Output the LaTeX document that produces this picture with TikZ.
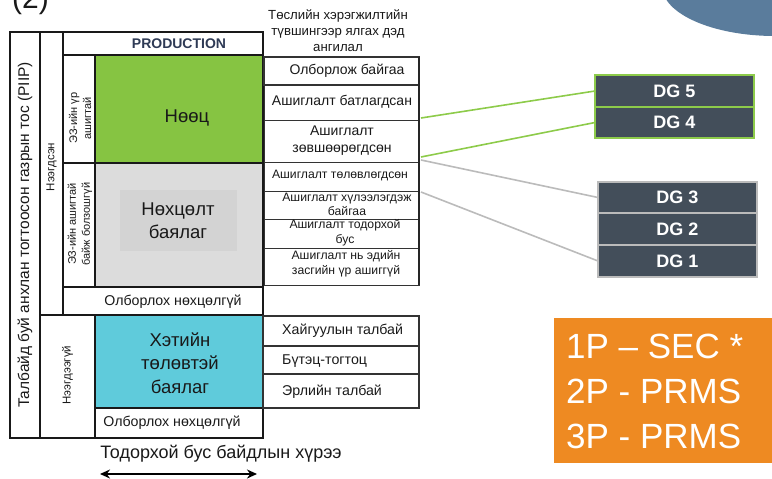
\documentclass[tikz,border=0pt]{standalone}
\usepackage{fontspec}
\setmainfont{Liberation Sans}
\usetikzlibrary{arrows.meta}
\definecolor{resgreen}{HTML}{86C442}
\definecolor{congray}{HTML}{DCDCDC}
\definecolor{congrayin}{HTML}{D3D3D3}
\definecolor{prosblue}{HTML}{5FCBDB}
\definecolor{dgfill}{HTML}{434E5A}
\definecolor{lngreen}{HTML}{8DCB4A}
\definecolor{lngray}{HTML}{BBBBBB}
\definecolor{orangebox}{HTML}{EE8A22}
\definecolor{circblue}{HTML}{5A7C9C}
\definecolor{prodtext}{HTML}{2E3A55}
\newcommand\fsz[2]{\fontsize{#1pt}{#2pt}\selectfont}
\tikzset{
  cell/.style={draw=black!90, line width=1.3pt, inner sep=0pt, outer sep=0pt},
  rcell/.style={draw=black!80, line width=1pt, inner sep=0pt, outer sep=0pt, minimum width=155pt},
  lbl/.style={inner sep=0pt, align=center, text=black!90},
  dgbox/.style={fill=dgfill, text=white, font=\fsz{18}{21}\bfseries, inner sep=0pt, outer sep=0pt, minimum width=159pt, line width=1.2pt},
  conn/.style={line width=1.6pt},
}
\begin{document}
\begin{tikzpicture}[x=1pt,y=-1pt]
\useasboundingbox (0,0) rectangle (772,479);
\clip (0,0) rectangle (772,479);
% decorative top-right shape
\fill[circblue] (775,-14) ellipse [x radius=113, y radius=50];
\node[lbl, anchor=base west, font=\fsz{30}{34}] (title) at (12,9) {(2)};

% left structure
\node[cell, minimum width=30pt, minimum height=406pt] (piip) at (25,235) {};
\node[lbl, rotate=90, font=\fsz{15.5}{18}] (piipt) at (25,235) {Талбайд буй анхлан тогтоосон газрын тос (PIIP)};
\node[cell, minimum width=23pt, minimum height=283pt] (disc) at (51.5,173.5) {};
\node[lbl, rotate=90, font=\fsz{11.5}{13}] (disct) at (51.5,167) {Нээгдсэн};
\node[cell, minimum width=55pt, minimum height=123pt] (undisc) at (67.5,376.5) {};
\node[lbl, rotate=90, font=\fsz{11.5}{13}] (undisct) at (67.5,375) {Нээгдээгүй};
\node[cell, minimum width=200pt, minimum height=23pt] (prod) at (163,43.5) {};
\node[lbl, font=\fsz{14}{16}\bfseries, text=prodtext] (prodt) at (179,44) {PRODUCTION};
\node[cell, minimum width=32pt, minimum height=108pt] (ez1) at (79,109) {};
\node[lbl, rotate=90, font=\fsz{11}{14}] (ez1t) at (80,118) {ЭЗ-ийн үр\\ашигтай};
\node[cell, minimum width=32pt, minimum height=124pt] (ez2) at (79,225) {};
\node[lbl, rotate=90, font=\fsz{11}{14}] (ez2t) at (80,224) {ЭЗ-ийн ашигтай\\байж болзошгүй};
\node[cell, fill=resgreen, minimum width=168pt, minimum height=108pt] (res) at (179,109) {};
\node[lbl, font=\fsz{18.5}{24}] (rest) at (187,118) {Нөөц};
\node[cell, fill=congray, minimum width=168pt, minimum height=124pt] (con) at (179,225) {};
\node[fill=congrayin, minimum width=117pt, minimum height=61pt, inner sep=0pt] (conin) at (178.5,220) {};
\node[lbl, font=\fsz{18.5}{23}] (cont) at (178,221) {Нөхцөлт\\баялаг};
\node[cell, minimum width=200pt, minimum height=28pt] (nc1) at (163,301) {};
\node[lbl, font=\fsz{14.2}{16}] (nc1t) at (173,302) {Олборлох нөхцөлгүй};
\node[cell, fill=prosblue, minimum width=168pt, minimum height=93pt] (pros) at (179,361.5) {};
\node[lbl, font=\fsz{18.5}{23.5}] (prost) at (180,363) {Хэтийн\\төлөвтэй\\баялаг};
\node[cell, minimum width=168pt, minimum height=30pt] (nc2) at (179,423) {};
\node[lbl, font=\fsz{14.2}{16}] (nc2t) at (172,423) {Олборлох нөхцөлгүй};

% header of sub-classes
\node[lbl, font=\fsz{13.2}{16}] (head) at (338,31) {Төслийн хэрэгжилтийн\\түвшингээр ялгах дэд\\ангилал};

% right upper table
\node[rcell, line width=1.3pt, minimum height=28pt] (r1) at (341.5,71) {};
\node[lbl, font=\fsz{14}{16}] (r1t) at (347,71) {Олборлож байгаа};
\node[rcell, minimum height=35pt] (r2) at (341.5,102.5) {};
\node[lbl, font=\fsz{14}{16}] (r2t) at (342,102) {Ашиглалт батлагдсан};
\node[rcell, minimum height=42pt] (r3) at (341.5,141) {};
\node[lbl, font=\fsz{14}{17}] (r3t) at (342,141) {Ашиглалт\\зөвшөөрөгдсөн};
\node[rcell, minimum height=29pt] (r4) at (341.5,176.5) {};
\node[lbl, font=\fsz{12.2}{14}] (r4t) at (340,176) {Ашиглалт төлөвлөгдсөн};
\node[rcell, minimum height=28pt] (r5) at (341.5,205) {};
\node[lbl, font=\fsz{12.2}{14.5}] (r5t) at (347,204.5) {Ашиглалт хүлээлэгдэж\\байгаа};
\node[rcell, minimum height=29pt] (r6) at (341.5,233.5) {};
\node[lbl, font=\fsz{12.2}{14.5}] (r6t) at (345,232.5) {Ашиглалт тодорхой\\бус};
\node[rcell, minimum height=37pt] (r7) at (341.5,266.5) {};
\node[lbl, font=\fsz{12.2}{14.5}] (r7t) at (346,263.5) {Ашиглалт нь эдийн\\засгийн үр ашиггүй};
\draw[line width=1.6pt, black!85] (r1.north east) -- (r7.south east);

% right lower table
\node[rcell, line width=1.3pt, minimum width=156pt, minimum height=30pt] (l1) at (341,331) {};
\node[lbl, anchor=west, font=\fsz{14.2}{16}] (l1t) at (282,331) {Хайгуулын талбай};
\node[rcell, line width=1.3pt, minimum width=156pt, minimum height=28pt] (l2) at (341,360) {};
\node[lbl, anchor=west, font=\fsz{14.2}{16}] (l2t) at (282,361) {Бүтэц-тогтоц};
\node[rcell, line width=1.3pt, minimum width=156pt, minimum height=34pt] (l3) at (341,391) {};
\node[lbl, anchor=west, font=\fsz{14.2}{16}] (l3t) at (282,392) {Эрлийн талбай};

% bottom range
\node[lbl, font=\fsz{18}{20}] (range) at (221,454) {Тодорхой бус байдлын хүрээ};
\coordinate (ar1) at (100,474);
\coordinate (ar2) at (257,474);
\draw[{Stealth[length=10pt,width=9pt]}-{Stealth[length=10pt,width=9pt]}, line width=1.6pt] (ar1) -- (ar2);

% DG boxes
\node[dgbox, draw=lngreen, minimum height=32pt] (dg5) at (674.5,91) {DG 5};
\node[dgbox, draw=lngreen, minimum height=31pt] (dg4) at (674.5,122.5) {DG 4};
\node[dgbox, draw=lngray, minimum height=31pt] (dg3) at (677.5,197.5) {DG 3};
\node[dgbox, draw=lngray, minimum height=32pt] (dg2) at (677.5,229) {DG 2};
\node[dgbox, draw=lngray, minimum height=32pt] (dg1) at (677.5,261) {DG 1};

% connectors
\coordinate (g1) at (421,118);
\coordinate (g2) at (421,157);
\coordinate (s1) at (421,160);
\coordinate (s2) at (421,192);
\draw[conn, lngreen] (g1) -- (dg5.west);
\draw[conn, lngreen] (g2) -- (dg4.west);
\draw[conn, lngray] (s1) -- (dg3.west);
\draw[conn, lngray] (s2) -- (dg1.west);

% orange classification box
\node[fill=orangebox, minimum width=220pt, minimum height=145pt, inner sep=0pt] (cls) at (664,390.5) {};
\node[anchor=base west, inner sep=0pt, text=white, font=\fsz{35}{45}] (cls1) at (566,358) {1P – SEC *};
\node[anchor=base west, inner sep=0pt, text=white, font=\fsz{35}{45}] (cls2) at (566,403) {2P - PRMS};
\node[anchor=base west, inner sep=0pt, text=white, font=\fsz{35}{45}] (cls3) at (566,448) {3P - PRMS};
\end{tikzpicture}
\end{document}
